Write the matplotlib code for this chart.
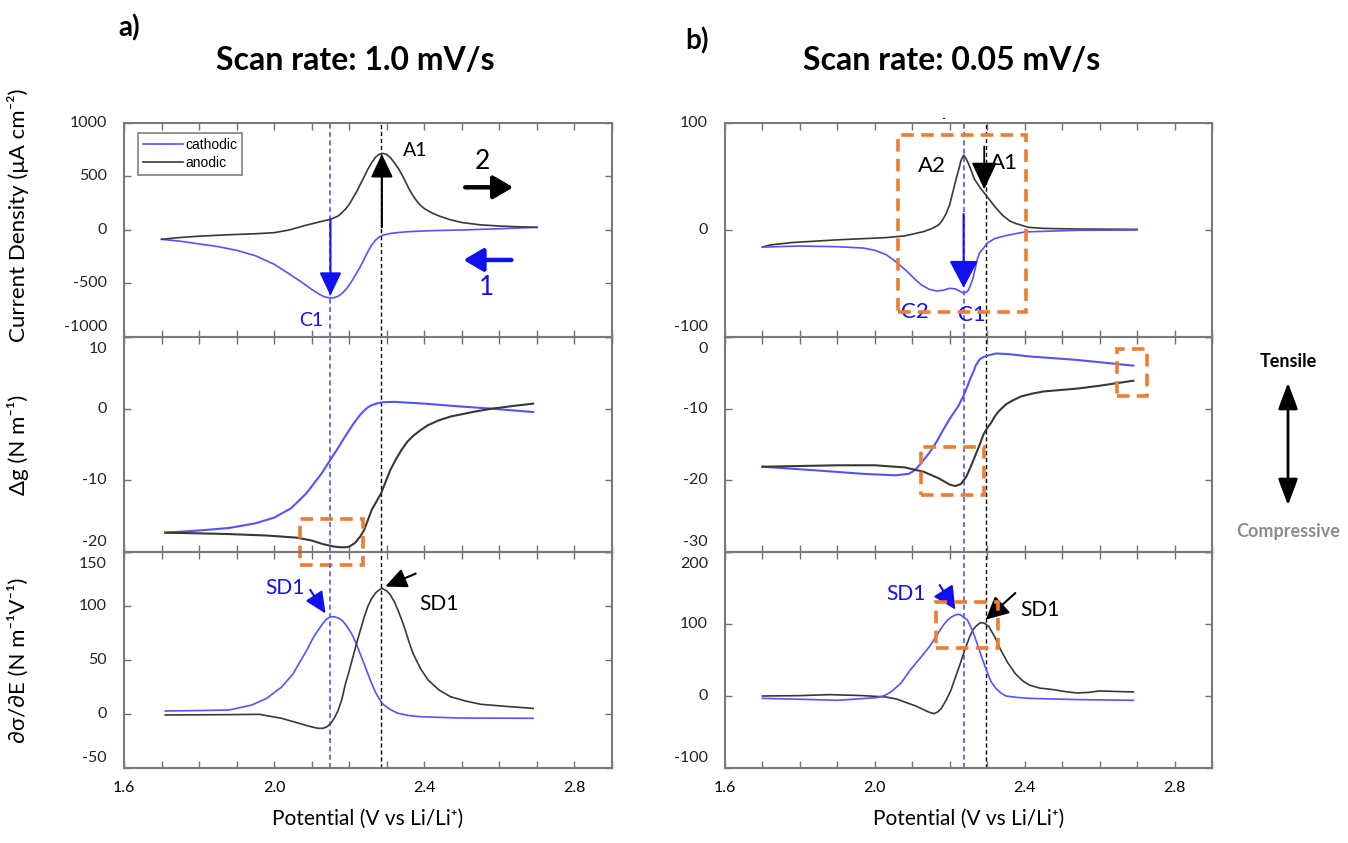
import numpy as np
import matplotlib
matplotlib.use('Agg')
import matplotlib.pyplot as plt
import matplotlib.transforms as mtransforms
from matplotlib.patches import Rectangle

plt.rcParams['font.family'] = ['Lato', 'DejaVu Sans']

# ---------------- data ----------------
# a) 1.0 mV/s
cv1_an_x = [1.70, 1.75, 1.80, 1.88, 1.95, 2.00, 2.04, 2.08, 2.12, 2.15, 2.17, 2.18, 2.19, 2.20, 2.21,
            2.22, 2.23, 2.24, 2.25, 2.26, 2.27, 2.28, 2.29, 2.30, 2.31, 2.32, 2.33, 2.34, 2.35, 2.36,
            2.37, 2.38, 2.39, 2.40, 2.42, 2.44, 2.47, 2.50, 2.55, 2.60, 2.65, 2.70]
cv1_an_y = [-87, -70, -58, -44, -35, -25, 0, 40, 75, 100, 130, 160, 195, 240, 300,
            360, 430, 500, 570, 630, 680, 708, 716, 705, 675, 630, 580, 520, 450, 380,
            320, 270, 230, 200, 160, 130, 95, 70, 48, 37, 30, 25]
cv1_ca_x = [1.70, 1.75, 1.80, 1.85, 1.90, 1.95, 2.00, 2.04, 2.07, 2.10, 2.12, 2.13, 2.14, 2.15, 2.16,
            2.17, 2.18, 2.19, 2.20, 2.21, 2.22, 2.23, 2.24, 2.25, 2.26, 2.27, 2.28, 2.29, 2.31, 2.33,
            2.36, 2.42, 2.50, 2.60, 2.70]
cv1_ca_y = [-87, -105, -130, -155, -190, -240, -320, -410, -480, -555, -600, -618, -630, -635, -632,
            -620, -595, -560, -515, -460, -400, -340, -270, -200, -140, -95, -65, -48, -32, -24,
            -15, -6, 0, 12, 25]

dg1_ca_x = [1.71, 1.80, 1.88, 1.95, 2.00, 2.045, 2.086, 2.127, 2.15, 2.17, 2.19, 2.21, 2.23, 2.24,
            2.25, 2.26, 2.275, 2.29, 2.32, 2.40, 2.49, 2.58, 2.69]
dg1_ca_y = [-17.3, -17.0, -16.65, -16.0, -15.2, -13.9, -11.8, -9.0, -7.1, -5.5, -3.8, -2.2, -0.8, -0.25,
            0.2, 0.5, 0.75, 0.9, 0.95, 0.7, 0.33, 0.0, -0.47]
dg1_an_x = [1.71, 1.80, 1.88, 1.98, 2.06, 2.10, 2.13, 2.16, 2.175, 2.19, 2.20, 2.215, 2.23, 2.24,
            2.25, 2.26, 2.27, 2.285, 2.30, 2.31, 2.325, 2.34, 2.355, 2.37, 2.39, 2.41, 2.44, 2.47,
            2.53, 2.58, 2.64, 2.69]
dg1_an_y = [-17.3, -17.4, -17.5, -17.7, -18.0, -18.4, -18.9, -19.25, -19.33, -19.35, -19.25, -18.75,
            -17.8, -16.9, -15.5, -14.1, -13.2, -11.8, -9.8, -8.5, -7.0, -5.7, -4.6, -3.8, -3.0, -2.3,
            -1.6, -1.1, -0.45, 0.0, 0.4, 0.7]

sd1_ca_x = [1.71, 1.80, 1.88, 1.94, 1.98, 2.02, 2.05, 2.07, 2.09, 2.10, 2.11, 2.12, 2.13, 2.14, 2.15,
            2.16, 2.17, 2.18, 2.19, 2.20, 2.21, 2.22, 2.23, 2.24, 2.25, 2.26, 2.27, 2.28, 2.29, 2.31,
            2.33, 2.36, 2.39, 2.49, 2.69]
sd1_ca_y = [2.8, 3.2, 3.7, 8.3, 14.5, 25, 37, 49, 61, 68, 74, 79, 84, 88, 90,
            90, 89, 87, 83, 78, 72, 64, 55, 46, 37, 28, 20, 14, 9, 4,
            0.6, -1.5, -2.5, -3.7, -4]
sd1_an_x = [1.71, 1.88, 1.96, 2.02, 2.06, 2.09, 2.11, 2.12, 2.13, 2.14, 2.15, 2.16, 2.17, 2.18, 2.19,
            2.20, 2.21, 2.22, 2.23, 2.24, 2.25, 2.26, 2.27, 2.28, 2.287, 2.30, 2.31, 2.32, 2.33, 2.34,
            2.35, 2.36, 2.37, 2.39, 2.41, 2.44, 2.47, 2.51, 2.55, 2.62, 2.69]
sd1_an_y = [-0.9, -0.6, -0.3, -4, -8, -11, -12.8, -13.3, -13.2, -12, -9, -4, 3, 13, 28,
            40, 53, 66, 78, 90, 100, 107, 112, 115, 116.4, 114, 110, 104, 96, 87,
            77, 66, 56, 42, 31.5, 22, 16, 12, 9, 7, 5.2]

# b) 0.05 mV/s
cv2_an_x = [1.70, 1.72, 1.78, 1.90, 2.03, 2.08, 2.13, 2.15, 2.17, 2.18, 2.19, 2.20, 2.205, 2.215,
            2.225, 2.23, 2.237, 2.243, 2.25, 2.258, 2.265, 2.28, 2.30, 2.32, 2.34, 2.36, 2.375, 2.41,
            2.45, 2.54, 2.70]
cv2_an_y = [-16, -14, -11.7, -9.2, -7.1, -5.5, -1.5, 1.0, 4.6, 9, 15, 24, 31, 45,
            58, 65, 70, 67, 62, 55, 48, 40, 31, 22, 14, 8.5, 6.2, 2.5, 1.5, 0.9, 0.6]
cv2_ca_x = [1.70, 1.80, 1.90, 1.97, 2.00, 2.03, 2.05, 2.07, 2.09, 2.107, 2.125, 2.145, 2.165, 2.18,
            2.20, 2.215, 2.228, 2.237, 2.245, 2.25, 2.256, 2.262, 2.268, 2.273, 2.28, 2.29, 2.30,
            2.32, 2.35, 2.40, 2.54, 2.70]
cv2_ca_y = [-16, -15, -15.6, -16.9, -19, -23, -28, -33.8, -40, -46, -51.5, -55.4, -57, -56.5,
            -54.5, -55, -57.5, -59, -58, -56, -51, -45, -36, -28, -21, -17, -12.3,
            -8, -5.2, -1.8, -0.3, 0]

dg2_ca_x = [1.70, 1.84, 1.97, 2.056, 2.09, 2.107, 2.125, 2.145, 2.165, 2.183, 2.20, 2.222, 2.235,
            2.247, 2.255, 2.265, 2.27, 2.28, 2.29, 2.30, 2.324, 2.36, 2.41, 2.54, 2.69]
dg2_ca_y = [-18.1, -18.6, -19.1, -19.3, -19.1, -18.6, -17.5, -16.2, -14.6, -12.9, -11.4, -9.7, -8.4,
            -6.9, -5.8, -4.6, -3.9, -3.1, -2.8, -2.6, -2.3, -2.4, -2.7, -3.2, -4.0]
dg2_an_x = [1.70, 1.90, 2.00, 2.08, 2.13, 2.17, 2.19, 2.20, 2.215, 2.23, 2.245, 2.26, 2.27, 2.28,
            2.29, 2.30, 2.31, 2.32, 2.33, 2.35, 2.37, 2.39, 2.42, 2.45, 2.54, 2.60, 2.69]
dg2_an_y = [-18.1, -17.9, -17.9, -18.2, -18.8, -19.7, -20.3, -20.6, -20.8, -20.5, -19.4, -17.6, -16.3,
            -15.0, -13.6, -12.7, -12.0, -11.1, -10.4, -9.4, -8.8, -8.3, -7.9, -7.6, -7.2, -6.8, -6.1]

sd2_an_x = [1.70, 1.80, 1.88, 1.97, 2.03, 2.06, 2.08, 2.11, 2.13, 2.145, 2.158, 2.168, 2.177, 2.19,
            2.203, 2.215, 2.228, 2.24, 2.253, 2.262, 2.27, 2.282, 2.293, 2.305, 2.32, 2.336, 2.355,
            2.375, 2.395, 2.413, 2.44, 2.477, 2.51, 2.54, 2.57, 2.60, 2.69]
sd2_an_y = [0, 0.5, 1.9, 0.5, -1.4, -4.5, -8.4, -14, -19, -22.5, -24.6, -22, -17.7, -6,
            7.9, 26, 45, 64, 82, 92, 97, 102, 101, 96, 82, 64, 46,
            31, 21, 15, 11, 8.8, 6, 4.2, 5, 7, 5.6]
sd2_ca_x = [1.70, 1.80, 1.90, 2.005, 2.025, 2.043, 2.07, 2.094, 2.12, 2.145, 2.165, 2.183, 2.195,
            2.205, 2.215, 2.222, 2.23, 2.235, 2.247, 2.26, 2.273, 2.285, 2.298, 2.31, 2.324, 2.337,
            2.35, 2.38, 2.413, 2.54, 2.69]
sd2_ca_y = [-3.3, -4.5, -6, -2.3, 0.5, 5.6, 18, 35.8, 52, 68, 84, 98.6, 106,
            110, 112.5, 113.5, 112.5, 110, 105.6, 92, 73, 54, 35.8, 20, 10.2, 4,
            0, -2, -3.3, -5, -6]

peak_lines = [(2.15, 2.285), (2.237, 2.298)]   # (cathodic, anodic) marker potentials
ylims = [[(-1000, 1000), (-20, 10), (-50, 150)],
         [(-100, 100), (-30, 0), (-100, 200)]]
yticks = [[[-1000, -500, 0, 500, 1000], [-20, -10, 0, 10], [-50, 0, 50, 100, 150]],
          [[-100, 0, 100], [-30, -20, -10, 0], [-100, 0, 100, 200]]]
titles = ['Scan rate: 1.0 mV/s', 'Scan rate: 0.05 mV/s']
ylabels = ['Current Density (\u03bcA cm\u207b\u00b2)', '\u0394g (N m\u207b\u00b9)',
           '\u2202\u03c3/\u2202E (N m\u207b\u00b9V\u207b\u00b9)']

BLUE = '#5353ff'
DBLUE = '#1010f0'
BLK = '#383838'
ORANGE = '#ed7d31'
GRAY = '#8c8c8c'

fig = plt.figure(figsize=(13.48, 8.43), dpi=100)
W, H = 1348., 843.
cols = [(124, 488), (725, 487)]
rows = [(123, 337), (337, 552), (552, 768)]
xt = np.round(np.arange(1.6, 2.91, 0.1), 2)
xtl = [('%.1f' % v) if v in (1.6, 2.0, 2.4, 2.8) else '' for v in xt]

axes = []
for c, (x0, w) in enumerate(cols):
    colax = []
    for r, (t, b) in enumerate(rows):
        ax = fig.add_axes([x0 / W, 1 - b / H, w / W, (b - t) / H])
        ax.patch.set_alpha(0)
        ax.set_xlim(1.6, 2.9)
        ax.set_ylim(*ylims[c][r])
        ax.set_xticks(xt)
        if r == 2:
            ax.set_xticklabels(xtl, fontsize=11.5)
        else:
            ax.set_xticklabels([])
        ax.tick_params(axis='x', direction='in', top=True, bottom=True, length=5, width=1,
                       color='#707070', pad=9)
        ax.set_yticks(yticks[c][r])
        ax.set_yticklabels([])
        ax.tick_params(axis='y', direction='in', left=True, right=True, length=5, width=1,
                       color='#707070')
        for s in ax.spines.values():
            s.set_color('#7a7a7a')
            s.set_linewidth(1.5)
        # y tick labels, nudged inward at the panel edges like the original
        lo, hi = ylims[c][r]
        for v in yticks[c][r]:
            dy = 0
            if v == hi and r > 0:
                dy = -12
            if v == lo:
                dy = 10
            tr = mtransforms.offset_copy(ax.get_yaxis_transform(), fig=fig, x=-17, y=dy, units='dots')
            ax.text(0, v, str(v), transform=tr, ha='right', va='center', fontsize=11.5, color='#222222')
        ax.axvline(peak_lines[c][0], color=BLUE, lw=1.2, ls=(0, (3, 2)), zorder=1)
        ax.axvline(peak_lines[c][1], color='k', lw=1.0, ls=(0, (3, 2)), zorder=1)
        colax.append(ax)
    axes.append(colax)

(a1, a2, a3), (b1, b2, b3) = axes

# ---- curves ----
a1.plot(cv1_ca_x, cv1_ca_y, color=BLUE, lw=1.2, label='cathodic')
a1.plot(cv1_an_x, cv1_an_y, color=BLK, lw=1.2, label='anodic')
a2.plot(dg1_ca_x, dg1_ca_y, color=BLUE, lw=1.5)
a2.plot(dg1_an_x, dg1_an_y, color=BLK, lw=1.5)
a3.plot(sd1_ca_x, sd1_ca_y, color=BLUE, lw=1.2)
a3.plot(sd1_an_x, sd1_an_y, color=BLK, lw=1.2)
b1.plot(cv2_an_x, cv2_an_y, color=BLK, lw=1.2)
b1.plot(cv2_ca_x, cv2_ca_y, color=BLUE, lw=1.2)
b2.plot(dg2_ca_x, dg2_ca_y, color=BLUE, lw=1.5)
b2.plot(dg2_an_x, dg2_an_y, color=BLK, lw=1.5)
b3.plot(sd2_an_x, sd2_an_y, color=BLK, lw=1.2)
b3.plot(sd2_ca_x, sd2_ca_y, color=BLUE, lw=1.2)

leg = a1.legend(loc='upper left', bbox_to_anchor=(0.028, 0.955), borderaxespad=0, fancybox=False,
                edgecolor='#808080', framealpha=1, handlelength=2.9, handletextpad=0.1,
                borderpad=0.4, labelspacing=0.25, prop={'family': 'Liberation Sans', 'size': 10})
leg.get_frame().set_linewidth(1.2)


def arrow(ax, start, tip, color, lw=1.5, hw=0.34, hl=0.72, ms=20):
    ax.annotate('', xy=tip, xytext=start, annotation_clip=False,
                arrowprops=dict(arrowstyle='-|>,head_width=%g,head_length=%g' % (hw, hl),
                                color=color, lw=lw, shrinkA=0, shrinkB=0, mutation_scale=ms))


def box(ax, x0, x1, y0, y1):
    ax.add_patch(Rectangle((x0, y0), x1 - x0, y1 - y0, fill=False, edgecolor=ORANGE, lw=2.6,
                           ls=(0, (3.5, 2)), clip_on=False, zorder=6))


# ---- annotations a) ----
arrow(a1, (2.15, 97), (2.15, -615), DBLUE)
a1.text(2.098, -847, 'C1', color=DBLUE, fontsize=14, ha='center', va='center')
arrow(a1, (2.287, 25), (2.287, 710), 'k')
a1.text(2.375, 740, 'A1', color='k', fontsize=14, ha='center', va='center')
a1.text(2.555, 640, '2', color='k', fontsize=19, ha='center', va='center')
arrow(a1, (2.509, 399), (2.637, 399), 'k', lw=3.2, hw=0.35, hl=0.6)
a1.text(2.565, -540, '1', color=DBLUE, fontsize=19, ha='center', va='center')
arrow(a1, (2.632, -280), (2.504, -280), DBLUE, lw=3.2, hw=0.35, hl=0.6)
box(a2, 2.07, 2.236, -21.8, -15.4)
a3.text(2.03, 117, 'SD1', color=DBLUE, fontsize=15, ha='center', va='center')
arrow(a3, (2.096, 115), (2.137, 93), DBLUE, lw=1.5, hw=0.3, hl=0.65)
arrow(a3, (2.377, 130), (2.296, 118), 'k', lw=1.5, hw=0.3, hl=0.65)
a3.text(2.438, 102, 'SD1', color='k', fontsize=15, ha='center', va='center')

# ---- annotations b) ----
box(b1, 2.061, 2.403, -76.9, 89.2)
b1.text(2.152, 60, 'A2', color='k', fontsize=16, ha='center', va='center')
b1.text(2.345, 63, 'A1', color='k', fontsize=16, ha='center', va='center')
arrow(b1, (2.292, 78), (2.292, 38), 'k', lw=1.3, hw=0.4, hl=0.85)
arrow(b1, (2.237, 15), (2.237, -54), DBLUE, lw=1.5, hw=0.45, hl=0.85)
b1.text(2.107, -77, 'C2', color=DBLUE, fontsize=16, ha='center', va='center')
b1.text(2.258, -79, 'C1', color=DBLUE, fontsize=16, ha='center', va='center')
b1.text(2.183, 104, '-', color='k', fontsize=8, ha='center', va='center', clip_on=False)
box(b2, 2.646, 2.727, -8.2, -1.7)
box(b2, 2.124, 2.292, -22.0, -15.4)
box(b3, 2.162, 2.33, 67, 131)
b3.text(2.082, 142, 'SD1', color=DBLUE, fontsize=15, ha='center', va='center')
arrow(b3, (2.173, 154), (2.215, 120), DBLUE, lw=1.5, hw=0.35, hl=0.7)
arrow(b3, (2.375, 143), (2.296, 106), 'k', lw=1.5, hw=0.35, hl=0.7)
b3.text(2.44, 119, 'SD1', color='k', fontsize=15, ha='center', va='center')

# ---- axis labels ----
for r, lab in enumerate(ylabels):
    axes[0][r].set_ylabel(lab, fontsize=16)
    axes[0][r].yaxis.set_label_coords(-0.195, 0.5)
axes[0][0].yaxis.set_label_coords(-0.195, 0.57)
for c in range(2):
    axes[c][2].set_xlabel('Potential (V vs Li/Li\u207a)', fontsize=15, labelpad=10)

# ---- titles and side note ----
fig.text(355 / W, 1 - 60 / H, titles[0], fontsize=23, fontweight='bold', ha='center', va='center')
fig.text(952 / W, 1 - 60 / H, titles[1], fontsize=23, fontweight='bold', ha='center', va='center')
fig.text(129 / W, 1 - 28 / H, 'a)', fontsize=20, fontweight='bold', ha='center', va='center')
fig.text(697 / W, 1 - 41 / H, 'b)', fontsize=20, fontweight='bold', ha='center', va='center')
fig.text(1288 / W, 1 - 362 / H, 'Tensile', fontsize=13, fontweight='bold', ha='center', va='center')
fig.text(1288 / W, 1 - 531 / H, 'Compressive', fontsize=13, fontweight='bold', color=GRAY,
         ha='center', va='center')
fig.add_artist(matplotlib.patches.FancyArrowPatch(
    (1288 / W, 1 - 380 / H), (1288 / W, 1 - 508 / H), transform=fig.transFigure,
    arrowstyle='<|-|>,head_width=0.3,head_length=0.8', mutation_scale=20, color='k', lw=2))

fig.savefig('out.png', dpi=100)
